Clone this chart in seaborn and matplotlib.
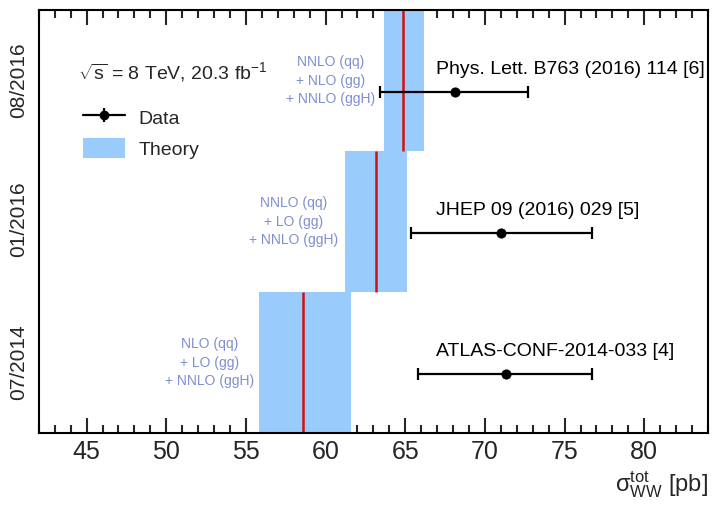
import matplotlib
matplotlib.use("Agg")
import matplotlib.pyplot as plt
from matplotlib.ticker import MultipleLocator
from matplotlib.lines import Line2D
from matplotlib.patches import Patch
from matplotlib.legend_handler import HandlerTuple
import seaborn as sns
import pandas as pd

# ---- data ----
dates = ["07/2014", "01/2016", "08/2016"]
refs = ["ATLAS-CONF-2014-033 [4]", "JHEP 09 (2016) 029 [5]", "Phys. Lett. B763 (2016) 114 [6]"]
data_val = [71.3, 71.0, 68.1]
data_lo = [65.8, 65.35, 63.4]
data_hi = [76.7, 76.7, 72.7]
theo_val = [58.6, 63.15, 64.85]
theo_lo = [55.85, 61.2, 63.65]
theo_hi = [61.6, 65.1, 66.2]
theo_labels = ["NLO (qq)\n+ LO (gg)\n+ NNLO (ggH)",
               "NNLO (qq)\n+ LO (gg)\n+ NNLO (ggH)",
               "NNLO (qq)\n+ NLO (gg)\n+ NNLO (ggH)"]
xticks = [45, 50, 55, 60, 65, 70, 75, 80]

sns.set_theme(style="ticks")
plt.rcParams["font.family"] = ["Liberation Sans", "DejaVu Sans"]
plt.rcParams["mathtext.fontset"] = "custom"
plt.rcParams["mathtext.rm"] = "Liberation Sans"
plt.rcParams["mathtext.default"] = "regular"

df = pd.DataFrame({"val": data_val, "row": [i + 0.42 for i in range(3)]})

fig = plt.figure(figsize=(7.14, 5.07), dpi=100)
ax = fig.add_axes([0.0543, 0.146, 0.9373, 0.834])

band_color = "#99cbfc"
rows = list(range(3))
ax.barh([r + 0.5 for r in rows], [h - l for l, h in zip(theo_lo, theo_hi)], left=theo_lo,
        height=1.0, color=band_color, edgecolor="none", zorder=1)
ax.vlines(theo_val, [r for r in rows], [r + 1 for r in rows], color="#d41010", lw=1.8, zorder=2)

xerr = [[v - l for v, l in zip(data_val, data_lo)], [h - v for v, h in zip(data_val, data_hi)]]
ax.errorbar(data_val, df["row"], xerr=xerr, fmt="none", ecolor="black", elinewidth=1.6,
            capsize=4.3, capthick=1.6, zorder=3)
sns.scatterplot(data=df, x="val", y="row", color="black", s=45, edgecolor="black", ax=ax, zorder=4, legend=False)

for i in rows:
    ax.text(66.9, i + 0.58, refs[i], fontsize=14, ha="left", va="center", color="black")

theo_x = [52.7, 58.0, 60.3]
for i in rows:
    ax.text(theo_x[i], i + 0.5, theo_labels[i], fontsize=10, ha="center", va="center",
            color="#7f8fd0", linespacing=1.4)

ax.text(0.058, 0.853, r"$\sqrt{s}$ = 8 TeV, 20.3 fb$^{-1}$", transform=ax.transAxes,
        fontsize=14, ha="left", va="center")

h_data = (Line2D([], [], color="black", lw=1.6, marker="o", markersize=6),
          Line2D([], [], color="black", lw=0, marker="|", markersize=10, markeredgewidth=1.6))
h_theo = Patch(facecolor=band_color, edgecolor="none")
ax.legend([h_data, h_theo], ["Data", "Theory"], handler_map={tuple: HandlerTuple(ndivide=1)},
          loc="upper left", bbox_to_anchor=(0.066, 0.771), frameon=False, fontsize=14,
          borderpad=0, borderaxespad=0,
          handlelength=2.17, handleheight=1.24, labelspacing=0.52, handletextpad=0.67)

ax.set_xlim(42, 84)
ax.set_ylim(0, 3)
ax.set_xticks(xticks)
ax.set_xticklabels([str(t) for t in xticks], fontsize=18)
ax.xaxis.set_minor_locator(MultipleLocator(1))
ax.tick_params(axis="x", which="major", direction="in", length=11, width=1.5, top=True, bottom=True, pad=5)
ax.tick_params(axis="x", which="minor", direction="in", length=5.5, width=1.5, top=True, bottom=True)
ax.set_yticks([0.5, 1.52, 2.5])
ax.set_yticklabels(dates, rotation=90, va="center", fontsize=15)
ax.tick_params(axis="y", length=0, pad=8)
for s in ax.spines.values():
    s.set_linewidth(1.5)
    s.set_color("black")
ax.set_xlabel(r"$\sigma_{WW}^{tot}$ [pb]", fontsize=17, loc="right", labelpad=4)
ax.set_ylabel("")

fig.savefig("out.png", dpi=100)
